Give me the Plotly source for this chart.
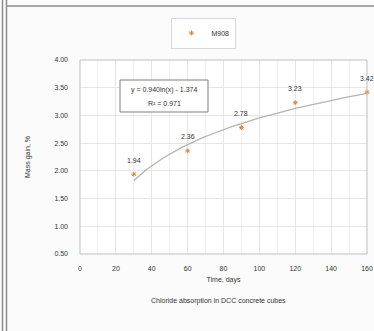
import numpy as np
import plotly.graph_objects as go

# ---- data ----
days = [30, 60, 90, 120, 160]
mass_gain = [1.94, 2.36, 2.78, 3.23, 3.42]
series_name = "M908"
trend_a = 0.940
trend_b = -1.374
trend_r2 = 0.971
x_ticks = [0, 20, 40, 60, 80, 100, 120, 140, 160]
y_ticks = [0.5, 1.0, 1.5, 2.0, 2.5, 3.0, 3.5, 4.0]

W, H = 374, 331
L, R, T, B = 80, 7, 60, 77
PW, PH = W - L - R, H - T - B

def px(xp):
    return (xp - L) / PW

def py(yp):
    return 1 - (yp - T) / PH

font_family = "Liberation Sans, Arial, sans-serif"
txt_col = "#404040"

fig = go.Figure()

tx = np.linspace(days[0], days[-1], 100)
ty = trend_a * np.log(tx) + trend_b
fig.add_trace(go.Scatter(x=tx, y=ty, mode="lines", line=dict(color="#b8b2ad", width=1.3),
                         showlegend=False, hoverinfo="skip"))

fig.add_trace(go.Scatter(
    x=days, y=mass_gain, mode="markers", name=series_name,
    marker=dict(symbol="asterisk-open", size=4, color="#ED7D31", line=dict(color="#ED7D31", width=1)),
    cliponaxis=False,
))

for d, v in zip(days, mass_gain):
    fig.add_annotation(x=d, y=v, text=f"{v:.2f}", showarrow=False, yshift=14,
                       xanchor="center", yanchor="middle",
                       font=dict(size=7, color="#333333"))

fig.update_layout(
    width=W, height=H,
    margin=dict(l=L, r=R, t=T, b=B, autoexpand=False),
    paper_bgcolor="#fbfbfb",
    plot_bgcolor="#ffffff",
    font=dict(family=font_family, size=7, color=txt_col),
    showlegend=True,
    legend=dict(orientation="h", x=px(203), y=py(33), xanchor="center", yanchor="middle",
                bordercolor="#d9d9d9", borderwidth=1, bgcolor="#ffffff",
                font=dict(size=7, color="#333333")),
    xaxis=dict(range=[0, 160], tickvals=x_ticks, ticktext=[str(v) for v in x_ticks],
               showgrid=True, gridcolor="#e6e6e6", gridwidth=1,
               minor=dict(dtick=10, showgrid=True, gridcolor="#f2f2f2"),
               zeroline=False, showline=False, ticks="", ticklen=0, ticklabelstandoff=9,
               tickfont=dict(size=7, color="#333333"),
               title=dict(text="Time, days", font=dict(size=7, color="#333333"), standoff=6)),
    yaxis=dict(range=[0.5, 4.0], tickvals=y_ticks, ticktext=[f"{v:.2f}" for v in y_ticks],
               showgrid=True, gridcolor="#e6e6e6", gridwidth=1,
               zeroline=False, showline=False, ticks="", ticklen=0, ticklabelstandoff=11,
               tickfont=dict(size=7, color="#333333"),
               title=dict(text="Mass gain, %", font=dict(size=7, color="#333333"), standoff=22)),
)

shapes = []
shapes.append(dict(type="line", xref="paper", yref="paper", x0=px(2.5), x1=px(2.5), y0=py(0), y1=py(331),
                   line=dict(color="#8c8c8c", width=1.5)))
shapes.append(dict(type="line", xref="paper", yref="paper", x0=px(6.5), x1=px(6.5), y0=py(0), y1=py(331),
                   line=dict(color="#8c8c8c", width=1.5)))
shapes.append(dict(type="line", xref="paper", yref="paper", x0=px(7), x1=px(374), y0=py(6), y1=py(6),
                   line=dict(color="#8c8c8c", width=1.5)))
shapes.append(dict(type="rect", xref="paper", yref="paper", x0=0, x1=1, y0=0, y1=1,
                   line=dict(color="#bfbfbf", width=1)))
shapes.append(dict(type="rect", xref="paper", yref="paper", x0=px(120), x1=px(208), y0=py(80), y1=py(112),
                   line=dict(color="#7f7f7f", width=1), fillcolor="#ffffff"))
fig.update_layout(shapes=shapes)

fig.add_annotation(xref="paper", yref="paper", x=px(164), y=py(90), xanchor="center", yanchor="middle",
                   text=f"y = {trend_a:.3f}ln(x) - {abs(trend_b):.3f}",
                   showarrow=False, font=dict(size=7, color="#333333"))
fig.add_annotation(xref="paper", yref="paper", x=px(164), y=py(103), xanchor="center", yanchor="middle",
                   text=f"R² = {trend_r2:.3f}",
                   showarrow=False, font=dict(size=7, color="#333333"))
fig.add_annotation(xref="paper", yref="paper", x=px(218), y=py(301), xanchor="center", yanchor="middle",
                   text="Chloride absorption in DCC concrete cubes",
                   showarrow=False, font=dict(size=7, color="#333333"))

fig.write_html("out.html", config={"displayModeBar": False},
               post_script="document.body.style.margin='0';document.body.style.overflow='hidden';")
